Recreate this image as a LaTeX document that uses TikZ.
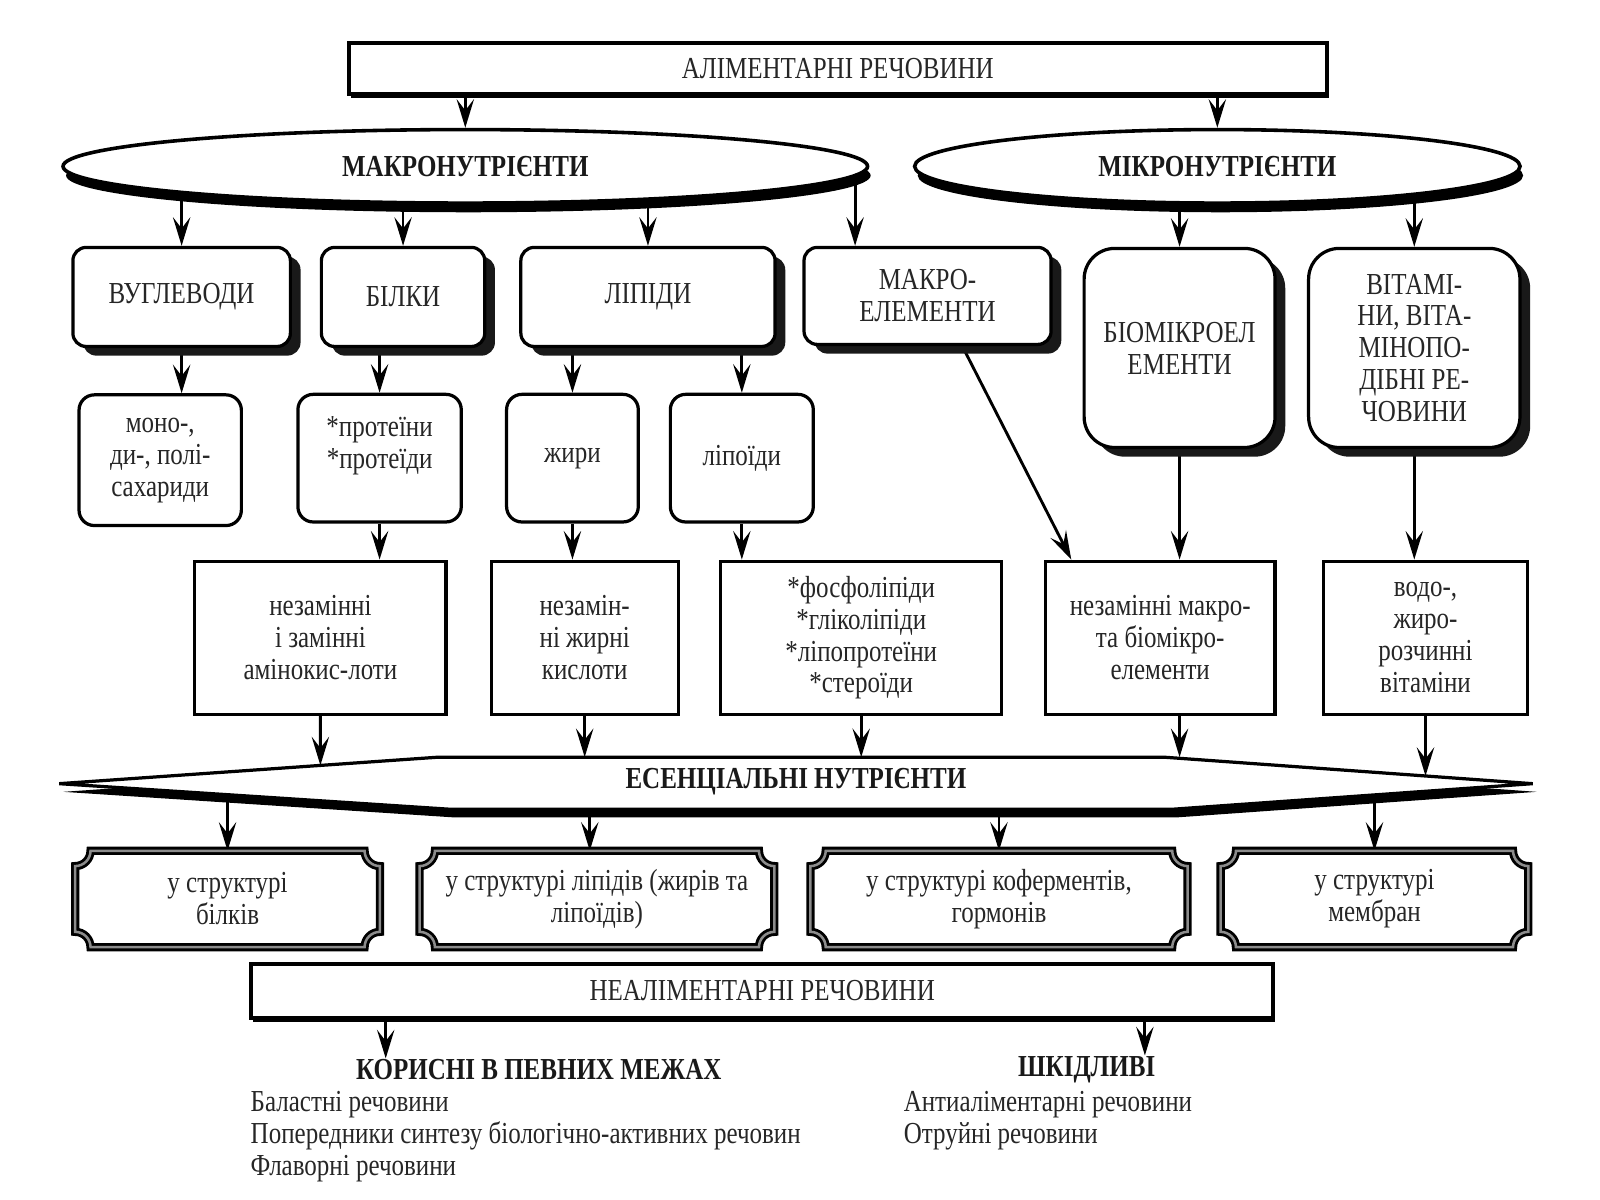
\documentclass[tikz,border=0pt]{standalone}
\usepackage{fontspec}
\setmainfont{Liberation Serif}[FakeStretch=0.82]
\usetikzlibrary{arrows.meta,shapes.geometric,shadows,calc,backgrounds}

\tikzset{
  arr/.style={-{Stealth[length=2.8mm,width=1.7mm,inset=1.1mm]}, line width=0.8pt},
  txt/.style={font=\fontsize{8.5}{8.9}\selectfont, text=black!85, align=center, inner sep=0pt},
  boldtxt/.style={txt, font=\fontsize{8.5}{8.9}\selectfont\bfseries, text=black!90},
  topbox/.style={txt, draw, line width=1.1pt, fill=white,
    drop shadow={shadow xshift=0.02cm, shadow yshift=-0.04cm, fill=black, opacity=1}},
  ovalbox/.style={boldtxt, ellipse, draw, line width=1pt, fill=white,
    drop shadow={shadow xshift=0.03cm, shadow yshift=-0.09cm, fill=black, opacity=1}},
  shadowbox/.style={txt, draw, line width=0.9pt, fill=white, rounded corners=0.13cm,
    drop shadow={shadow xshift=0.1cm, shadow yshift=-0.09cm, fill=black!90, opacity=1}},
  rbox/.style={txt, draw, line width=0.9pt, fill=white, rounded corners=0.15cm},
  sqbox/.style={txt, draw, line width=0.9pt, fill=white},
  hexline/.style={draw, line width=0.9pt, fill=white,
    drop shadow={shadow xshift=0.04cm, shadow yshift=-0.08cm, fill=black, opacity=1}},
  scrollline/.style={draw=black, line width=0.8pt, double=black!45, double distance=0.7pt},
  listtxt/.style={txt, align=left}
}

\newcommand{\scrollframe}[1]{%
  \draw[scrollline] let \p1=(#1.north west), \p2=(#1.south east) in
    ({\x1+1.5mm},\y1) -- ({\x2-1.5mm},\y1) arc[start angle=180,end angle=270,radius=1.5mm]
    -- (\x2,{\y2+1.5mm}) arc[start angle=90,end angle=180,radius=1.5mm]
    -- ({\x1+1.5mm},\y2) arc[start angle=0,end angle=90,radius=1.5mm]
    -- (\x1,{\y1-1.5mm}) arc[start angle=-90,end angle=0,radius=1.5mm] -- cycle;}

\begin{document}
\begin{tikzpicture}[x=0.01cm, y=-0.01cm]
\useasboundingbox (0,0) rectangle (1568,1176);

\node[topbox, minimum width=9.58cm, minimum height=0.5cm] (alim) at (821,67) {АЛІМЕНТАРНІ РЕЧОВИНИ};

\node[ovalbox, minimum width=7.88cm, minimum height=0.72cm] (macro) at (456,163) {МАКРОНУТРІЄНТИ};
\node[ovalbox, minimum width=5.93cm, minimum height=0.72cm] (micro) at (1193,163) {МІКРОНУТРІЄНТИ};

\node[shadowbox, minimum width=2.13cm, minimum height=0.97cm] (vug) at (178,291) {ВУГЛЕВОДИ};
\node[shadowbox, minimum width=1.6cm, minimum height=0.97cm] (bil) at (395,291) {БІЛКИ};
\node[shadowbox, minimum width=2.49cm, minimum height=0.97cm] (lip) at (635,291) {ЛІПІДИ};
\node[shadowbox, minimum width=2.42cm, minimum height=0.95cm] (mak) at (909,290) {МАКРО-\\ЕЛЕМЕНТИ};
\node[shadowbox, rounded corners=0.3cm, minimum width=1.87cm, minimum height=1.95cm] (bio) at (1156,341) {БІОМІКРОЕЛ\\ЕМЕНТИ};
\node[shadowbox, rounded corners=0.3cm, minimum width=2.07cm, minimum height=1.95cm] (vit) at (1386,341) {ВІТАМІ-\\НИ, ВІТА-\\МІНОПО-\\ДІБНІ РЕ-\\ЧОВИНИ};

\node[rbox, minimum width=1.59cm, minimum height=1.28cm] (mono) at (157,451) {моно-,\\ди-, полі-\\сахариди};
\node[rbox, minimum width=1.6cm, minimum height=1.25cm] (prot) at (372,449) {*протеїни\\*протеїди\\~};
\node[rbox, minimum width=1.29cm, minimum height=1.25cm] (zhyr) at (561,449) {жири};
\node[rbox, minimum width=1.4cm, minimum height=1.25cm] (lipo) at (727,449) {ліпоїди};

\node[sqbox, minimum width=2.46cm, minimum height=1.5cm] (amin) at (314,625) {незамінні\\і замінні\\амінокис-лоти};
\node[sqbox, minimum width=1.83cm, minimum height=1.5cm] (kysl) at (573,625) {незамін-\\ні жирні\\кислоти};
\node[sqbox, minimum width=2.75cm, minimum height=1.5cm] (fosf) at (844,625) {*фосфоліпіди\\*гліколіпіди\\*ліпопротеїни\\*стероїди};
\node[sqbox, minimum width=2.25cm, minimum height=1.5cm] (nezm) at (1137,625) {незамінні макро-\\та біомікро-\\елементи};
\node[sqbox, minimum width=2cm, minimum height=1.5cm] (vod) at (1397,625) {водо-,\\жиро-\\розчинні\\вітаміни};

\coordinate (hexL) at (58,768);
\coordinate (hexTL) at (430,742);
\coordinate (hexTR) at (1140,742);
\coordinate (hexR) at (1502,768);
\coordinate (hexBR) at (1150,793);
\coordinate (hexBL) at (440,793);
\draw[hexline] (hexL) -- (hexTL) -- (hexTR) -- (hexR) -- (hexBR) -- (hexBL) -- cycle;
\node[boldtxt] (ess) at (780,766) {ЕСЕНЦІАЛЬНІ НУТРІЄНТИ};

\node[txt, minimum width=2.97cm, minimum height=0.93cm] (s1) at (223,881) {у структурі\\білків};
\node[txt, minimum width=3.46cm, minimum height=0.93cm] (s2) at (585,881) {у структурі ліпідів (жирів та\\ліпоїдів)};
\node[txt, minimum width=3.68cm, minimum height=0.93cm] (s3) at (979,881) {у структурі коферментів,\\гормонів};
\node[txt, minimum width=3cm, minimum height=0.93cm] (s4) at (1347,881) {у структурі\\мембран};
\scrollframe{s1}
\scrollframe{s2}
\scrollframe{s3}
\scrollframe{s4}

\node[topbox, minimum width=10.01cm, minimum height=0.53cm] (neal) at (747,971) {НЕАЛІМЕНТАРНІ РЕЧОВИНИ};

\node[boldtxt] (kor) at (528,1048) {КОРИСНІ В ПЕВНИХ МЕЖАХ};
\node[listtxt, anchor=north west] (korlist) at (245,1069) {Баластні речовини\\Попередники синтезу біологічно-активних речовин\\Флаворні речовини};
\node[boldtxt] (shk) at (1065,1048) {ШКІДЛИВІ};
\node[listtxt, anchor=north west] (shklist) at (885,1069) {Антиаліментарні речовини\\Отруйні речовини};

\coordinate (makin) at ($(mak.north)+(-71,0)$);
\coordinate (makout) at ($(mak.south)+(34,0)$);
\coordinate (nezmin) at ($(nezm.north west)+(27,0)$);
\coordinate (korin) at ($(kor.north)+(-150,0)$);
\coordinate (shkin) at ($(shk.north)+(57,0)$);

\begin{scope}[on background layer]
\draw[arr] (alim.south -| macro.north) -- (macro.north);
\draw[arr] (alim.south -| micro.north) -- (micro.north);
\draw[arr] (vug.north |- macro.center) -- (vug.north);
\draw[arr] (bil.north |- macro.center) -- (bil.north);
\draw[arr] (lip.north |- macro.center) -- (lip.north);
\draw[arr] (makin |- macro.center) -- (makin);
\draw[arr] (bio.north |- micro.center) -- (bio.north);
\draw[arr] (vit.north |- micro.center) -- (vit.north);
\draw[arr] (vug.center) -- (vug.center |- mono.north);
\draw[arr] (prot.north |- bil.center) -- (prot.north);
\draw[arr] (zhyr.north |- lip.center) -- (zhyr.north);
\draw[arr] (lipo.north |- lip.center) -- (lipo.north);
\draw[arr] (prot.south) -- (prot.south |- amin.north);
\draw[arr] (zhyr.south) -- (zhyr.south |- kysl.north);
\draw[arr] (lipo.south) -- (lipo.south |- fosf.north);
\draw[arr] (makout) -- (nezmin);
\draw[arr] (bio.center) -- (bio.center |- nezm.north);
\draw[arr] (vit.center) -- (vit.center |- vod.north);
\draw[arr] (amin.south) -- (intersection of amin.south--amin.north and hexL--hexTL);
\draw[arr] (kysl.south) -- (kysl.south |- hexTL);
\draw[arr] (fosf.south) -- (fosf.south |- hexTL);
\draw[arr] (bio.south |- nezm.south) -- (bio.south |- hexTL);
\draw[arr] (vod.south) -- (intersection of vod.south--vod.north and hexTR--hexR);
\draw[arr] (s1.north |- ess.center) -- (s1.north);
\draw[arr] ([xshift=-0.07cm]s2.north |- ess.center) -- ([xshift=-0.07cm]s2.north);
\draw[arr] (s3.north |- ess.center) -- (s3.north);
\draw[arr] (s4.north |- ess.center) -- (s4.north);
\draw[arr] (korin |- neal.center) -- (korin);
\draw[arr] (shkin |- neal.center) -- (shkin);
\end{scope}
\end{tikzpicture}
\end{document}
